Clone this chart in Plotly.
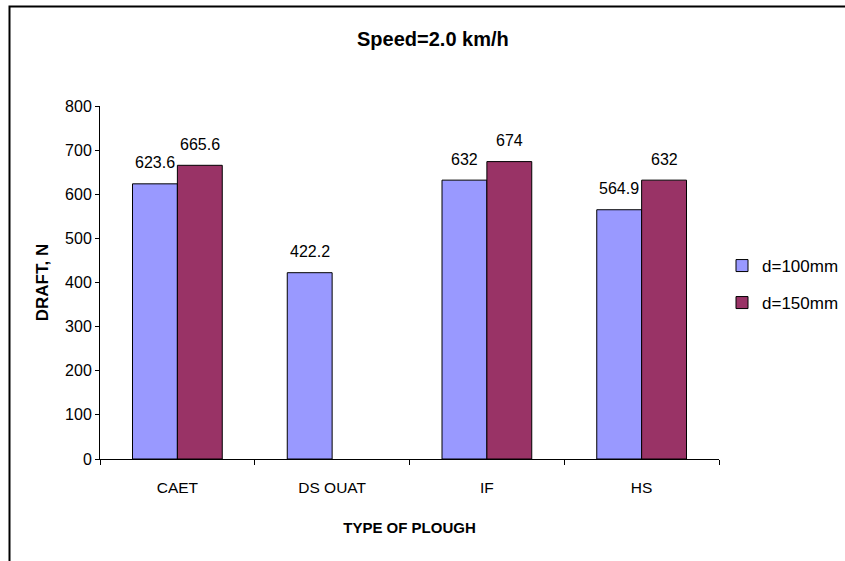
import plotly.graph_objects as go

categories = ["CAET", "DS OUAT", "IF", "HS"]
d100 = [623.6, 422.2, 632, 564.9]
d150 = [665.6, None, 674, 632]
series_names = ["d=100mm", "d=150mm"]
y_ticks = [0, 100, 200, 300, 400, 500, 600, 700, 800]

FONT = "Liberation Sans, Arial, sans-serif"

fig = go.Figure()
fig.add_trace(go.Bar(
    x=categories, y=d100, name=series_names[0],
    marker=dict(color="#9999FF", line=dict(color="black", width=1)),
    legend="legend",
))
fig.add_trace(go.Bar(
    x=categories, y=d150, name=series_names[1],
    marker=dict(color="#993366", line=dict(color="black", width=1)),
    legend="legend2",
))

L, R, T, B = 100, 126, 106, 102
W, H = 845, 561
pw = W - L - R
ph = H - T - B
cat_px = pw / len(categories)
bar_px = cat_px * (1 - 0.42) / 2

def px_x(x):
    return (x - L) / pw

def px_y(y):
    return (H - B - y) / ph

annotations = []
for series, shift in ((d100, -bar_px / 2), (d150, bar_px / 2)):
    for c, v in zip(categories, series):
        if v is None:
            continue
        annotations.append(dict(
            x=c, y=v, xref="x", yref="y", text=f"{v:g}", showarrow=False,
            xshift=shift, yshift=21, xanchor="center", yanchor="middle",
            font=dict(size=16, color="black"),
        ))

annotations.append(dict(
    text="<b>Speed=2.0 km/h</b>", xref="paper", yref="paper",
    x=px_x(433), y=px_y(39), xanchor="center", yanchor="middle",
    showarrow=False, font=dict(size=20, color="black"),
))

fig.update_layout(
    width=W, height=H,
    margin=dict(l=L, r=R, t=T, b=B, pad=0, autoexpand=False),
    paper_bgcolor="white", plot_bgcolor="white",
    font=dict(family=FONT, size=16, color="black"),
    barmode="group", bargap=0.42, bargroupgap=0,
    showlegend=True,
    legend=dict(x=px_x(722), y=px_y(266), xanchor="left", yanchor="middle",
                font=dict(size=17), bgcolor="rgba(0,0,0,0)", itemwidth=30),
    legend2=dict(x=px_x(722), y=px_y(303), xanchor="left", yanchor="middle",
                 font=dict(size=17), bgcolor="rgba(0,0,0,0)", itemwidth=30),
    xaxis=dict(
        type="category", showline=True, linecolor="black", linewidth=1,
        ticks="outside", tickson="boundaries", ticklen=5, tickcolor="black",
        showgrid=False, ticklabelstandoff=14,
        tickfont=dict(size=15.5),
        title=dict(text="<b>TYPE OF PLOUGH</b>", font=dict(size=15), standoff=27),
    ),
    yaxis=dict(
        range=[0, 800], tickvals=y_ticks, showline=True, linecolor="black", linewidth=1,
        ticks="outside", ticklen=4, tickcolor="black", showgrid=False, zeroline=False,
        tickfont=dict(size=16),
        title=dict(text="<b>DRAFT, N</b>", font=dict(size=17), standoff=12),
    ),
    annotations=annotations,
    shapes=[dict(
        type="rect", xref="paper", yref="paper",
        x0=px_x(9.5), x1=px_x(900), y0=px_y(600), y1=px_y(6.5),
        line=dict(color="black", width=2), fillcolor="rgba(0,0,0,0)", layer="below",
    )],
)

fig.write_html("out.html")
